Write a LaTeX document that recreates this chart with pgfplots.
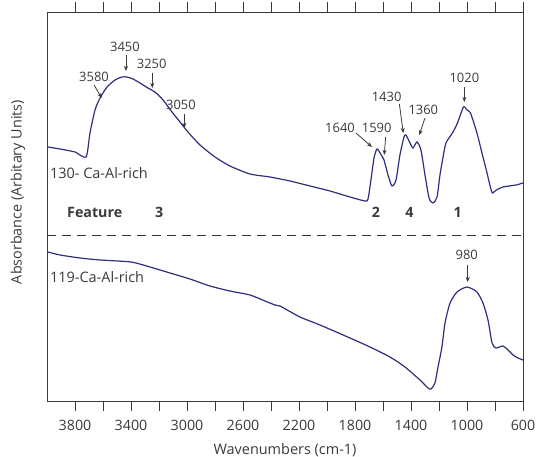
\documentclass[border=0pt]{standalone}
\usepackage{fontspec}
\setmainfont{Open Sans}
\setsansfont{Open Sans}
\usepackage{pgfplots}
\pgfplotsset{compat=1.18}
\usetikzlibrary{arrows.meta,calc}
\definecolor{spec}{HTML}{2E2E7E}
\definecolor{ink}{HTML}{3A3A3A}

\begin{document}
\begin{tikzpicture}
\begin{axis}[
  scale only axis, width=476bp, height=389bp,
  xmin=600, xmax=4000, x dir=reverse,
  ymin=0, ymax=389,
  xtick={3800,3600,...,600},
  xticklabels={3800,,3400,,3000,,2600,,2200,,1800,,1400,,1000,,600},
  ytick=\empty,
  tick align=outside, major tick length=10bp,
  tick style={ink, line width=0.9pt},
  axis line style={ink, line width=0.9pt},
  /pgf/number format/assume math mode=true,
  tick label style={font=\fontsize{14.3}{16}\selectfont, text=ink},
  xticklabel style={yshift=-6bp},
  xlabel={Wavenumbers (cm-1)},
  xlabel style={font=\fontsize{14.5}{16}\selectfont, text=ink, yshift=-6bp},
  clip=false,
]
\coordinate (sw) at (rel axis cs:0,0);
\coordinate (ne) at (rel axis cs:1,1);
\coordinate (ylab) at (rel axis cs:0,0.537);

% 130 - Ca-Al-rich
\addplot[spec, line width=1.2pt, smooth, tension=0.4] coordinates {
(3993,254)(3907,252)(3800,249)(3721,244)(3693,268)(3657,291)(3621,303)
(3571,314)(3514,321)(3464,324)(3429,324)(3386,322)(3336,318)(3279,313)
(3229,309)(3171,301)(3107,289)(3050,279)(2993,269)(2907,256)(2800,244)
(2693,235)(2550,227)(2407,224)(2264,220)(2121,215)(1979,210)(1836,204)
(1729,200)(1707,202)(1686,221)(1664,243)(1643,252)(1621,248)(1593,241)
(1564,226)(1536,215)(1507,221)(1479,246)(1450,264)(1436,266)(1407,258)
(1386,253)(1357,259)(1329,251)(1300,226)(1271,203)(1243,198)(1214,204)
(1193,226)(1171,244)(1150,258)(1104,268)(1068,278)(1025,294)(1000,291)
(975,288)(929,268)(886,244)(862,231)(833,214)(819,208)(790,211)
(743,214)(650,216)(600,218)
};

% 119 - Ca-Al-rich
\addplot[spec, line width=1.2pt, smooth, tension=0.4] coordinates {
(3993,149)(3907,146)(3764,143)(3621,141)(3400,139)(3264,134)(3121,128)
(2979,122)(2836,115)(2693,110)(2550,106)(2443,100)(2371,96)(2336,95)
(2193,84)(2050,76)(1836,63)(1693,54)(1550,44)(1443,34)(1336,21)
(1279,13)(1257,12)(1229,18)(1207,34)(1179,54)(1157,78)(1121,98)
(1071,109)(1000,114)(929,109)(886,98)(850,81)(821,58)(793,53)
(743,55)(707,51)(671,46)(636,43)(600,41)
};

% separator
\addplot[black!80, line width=0.9pt, dash pattern=on 9bp off 6bp] coordinates {(4000,166)(600,166)};

\begin{scope}[every node/.style={font=\fontsize{13}{14}\selectfont, text=ink},
  arr/.style={ink, line width=0.8pt, -{Stealth[length=5bp,width=4bp]}}]
\node at (axis cs:3443,354) {3450};
\draw[arr] (axis cs:3436,346) -- (axis cs:3436,330);
\node at (axis cs:3664,324) {3580};
\draw[arr] (axis cs:3664,316) -- (axis cs:3609,303);
\node at (axis cs:3252,337) {3250};
\draw[arr] (axis cs:3248,328) -- (axis cs:3248,313);
\node at (axis cs:3043,296) {3050};
\draw[arr] (axis cs:3019,287) -- (axis cs:3019,273);
\node at (axis cs:1907,273) {1640};
\draw[arr] (axis cs:1793,268) -- (axis cs:1679,254);
\node at (axis cs:1645,273) {1590};
\draw[arr] (axis cs:1581,264) -- (axis cs:1591,246);
\node at (axis cs:1574,304) {1430};
\draw[arr] (axis cs:1483,297) -- (axis cs:1455,268);
\node at (axis cs:1312,291) {1360};
\draw[arr] (axis cs:1300,283) -- (axis cs:1341,266);
\node at (axis cs:1019,323) {1020};
\draw[arr] (axis cs:1019,314) -- (axis cs:1019,299);
\node at (axis cs:1002,146) {980};
\draw[arr] (axis cs:995,136) -- (axis cs:995,119);
\end{scope}

\begin{scope}[every node/.style={font=\fontsize{14.5}{16}\selectfont, text=ink}]
\node[anchor=west, inner sep=0pt] at (axis cs:3979,228) {130- Ca-Al-rich};
\node[anchor=west, inner sep=0pt] at (axis cs:3979,124) {119-Ca-Al-rich};
\node[anchor=west, inner sep=0pt, font=\fontsize{14.3}{16}\selectfont\bfseries] at (axis cs:3857,189) {Feature};
\node[font=\fontsize{14.3}{16}\selectfont\bfseries] at (axis cs:3198,189) {3};
\node[font=\fontsize{14.3}{16}\selectfont\bfseries] at (axis cs:1650,189) {2};
\node[font=\fontsize{14.3}{16}\selectfont\bfseries] at (axis cs:1412,189) {4};
\node[font=\fontsize{14.3}{16}\selectfont\bfseries] at (axis cs:1067,189) {1};
\end{scope}
\end{axis}
\node[rotate=90, font=\fontsize{14.4}{16}\selectfont, text=ink] at ([xshift=-29bp]ylab) {Absorbance (Arbitary Units)};
\pgfresetboundingbox
\useasboundingbox ([xshift=-47bp,yshift=-56bp]sw) rectangle ([xshift=16bp,yshift=12bp]ne);
\end{tikzpicture}
\end{document}
